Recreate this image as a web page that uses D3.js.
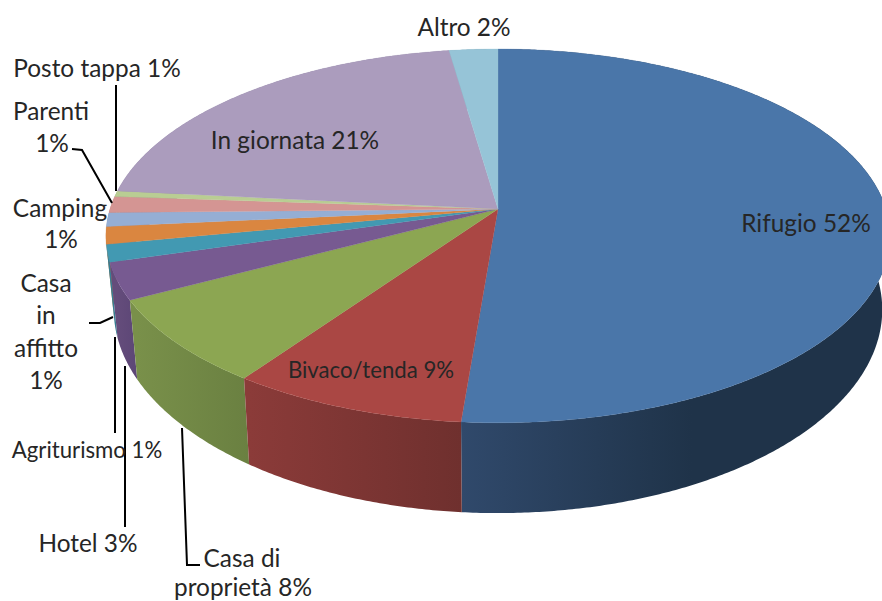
<!DOCTYPE html>
<html><head><meta charset="utf-8">
<script src="https://cdn.jsdelivr.net/npm/d3@7/dist/d3.min.js"></script>
<style>html,body{margin:0;padding:0;background:#fff;overflow:hidden}svg{display:block}</style>
</head><body>
<svg id="c" width="882" height="601"></svg>
<script>
// Data
const categories = ["Rifugio","Bivaco/tenda","Casa di proprietà","Hotel","Agriturismo","Casa in affitto","Camping","Parenti","Posto tappa","In giornata","Altro"];
const sliceShares = [51.3,8.5,7.5,3.2,1.5,1.5,1.2,1.4,0.5,21.1,2.3];
const shownPercents = [52,9,8,3,1,1,1,1,1,21,2];                       // as printed in the labels
// Styles
const topColors  = ["#4a76a9","#aa4744","#8ca652","#775a91","#4299b2","#da8640","#95aed4","#d49593","#b9cd93","#ab9cbd","#96c4d7"];
const wallLight  = ["#30496b","#8b3b39","#79904a","#644c7b","#367f94","#b56f35","#7b90b0","#b07b7a","#99aa7a","#8e82a0","#7ca3b2"];
const wallDark   = ["#1f3349","#6f302e","#6a8041","#5c4676","#33768a","#a86731","#728498","#a27170","#8d9e70","#837894","#7397a5"];
// Geometry of the tilted disc
const G = {cx:498, cy:209, rx:388, ry:183, k:0.144, shrink:0.98, depth:71.5, power:1.8};
function rim(a){ const u=Math.sin(a), v=-Math.cos(a), w=1-G.k*v;
  return {x:G.cx+G.rx*u/w, y:G.cy+G.ry*v/w, w}; }
function base(a){ const p=rim(a);
  return {x:G.cx+(p.x-G.cx)*G.shrink, y:G.cy+(p.y-G.cy)*G.shrink+G.depth/Math.pow(p.w,G.power)}; }
const lineGen = d3.line().x(d=>d.x).y(d=>d.y);
const arcs = d3.pie().sort(null).value(d=>d)(sliceShares);
function samples(s,e){ const n=Math.max(4,Math.ceil((e-s)*120)); return d3.range(n+1).map(i=>s+(e-s)*i/n); }

const svg = d3.select("#c");
const defs = svg.append("defs");
const gp = svg.append("g");

// gradients for walls
arcs.forEach((d,i)=>{
  const a=samples(d.startAngle,d.endAngle).map(base);
  const xs=d3.extent(a,p=>p.x);
  const g=defs.append("linearGradient").attr("id","w"+i).attr("gradientUnits","userSpaceOnUse")
    .attr("x1",xs[0]).attr("x2",i===0?xs[0]+230:xs[1]).attr("y1",0).attr("y2",0);
  g.append("stop").attr("offset",0).attr("stop-color",wallLight[i]);
  g.append("stop").attr("offset",1).attr("stop-color",wallDark[i]);
});

// outer walls, back to front
const wallOrder = arcs.map((d,i)=>i).sort((a,b)=>{
  const m=d=>-Math.cos((arcs[d].startAngle+arcs[d].endAngle)/2); return m(a)-m(b);});
gp.selectAll("path.wall").data(wallOrder).join("path").attr("class","wall")
  .attr("d",i=>{const s=samples(arcs[i].startAngle,arcs[i].endAngle);
    return lineGen(s.map(rim).concat(s.slice().reverse().map(base)))+"Z";})
  .attr("fill",i=>`url(#w${i})`);

// top faces
gp.selectAll("path.top").data(arcs).join("path").attr("class","top")
  .attr("d",d=>lineGen([{x:G.cx,y:G.cy}].concat(samples(d.startAngle,d.endAngle).map(rim)))+"Z")
  .attr("fill",(d,i)=>topColors[i])
  .attr("stroke",(d,i)=>topColors[i]).attr("stroke-width",0.3);

// Leader lines (annotation layout)
const leaders = [
 [[116,85],[116,191]],
 [[72,149],[82,150],[112,203]],
 [[89,323],[100,323],[113,317]],
 [[115,337],[115,433]],
 [[125,366],[125,527]],
 [[182,428],[187,565],[200,565]]
];
svg.append("g").selectAll("path").data(leaders).join("path")
  .attr("d",d3.line()).attr("fill","none").attr("stroke","#000").attr("stroke-width",2);

// Labels (annotation layout)
const pct = i=>shownPercents[i]+"%";
const big = 24.4, small = 22.2;
const labels = [
 {t:`${categories[0]} ${pct(0)}`, x:806, y:232, s:big},
 {t:`${categories[1]} ${pct(1)}`, x:371, y:378, s:small},
 {t:"Casa di", x:242, y:567, s:big},
 {t:`proprietà ${pct(2)}`, x:243, y:596, s:big},
 {t:`${categories[3]} ${pct(3)}`, x:88, y:552, s:big},
 {t:`${categories[4]} ${pct(4)}`, x:87, y:458, s:small},
 {t:"Casa", x:46, y:292, s:big},{t:"in", x:46, y:324, s:big},{t:"affitto", x:46, y:357, s:big},{t:pct(5), x:46, y:389, s:big},
 {t:categories[6], x:60, y:217, s:big},{t:pct(6), x:61, y:248, s:big},
 {t:categories[7], x:51, y:120, s:big},{t:pct(7), x:52, y:152, s:big},
 {t:`${categories[8]} ${pct(8)}`, x:97, y:77, s:big},
 {t:`${categories[9]} ${pct(9)}`, x:295, y:149, s:big},
 {t:`${categories[10]} ${pct(10)}`, x:464, y:36, s:big}
];
svg.append("g").selectAll("text").data(labels).join("text")
  .attr("x",d=>d.x).attr("y",d=>d.y).attr("text-anchor","middle")
  .attr("font-family","Lato, 'Open Sans', sans-serif").attr("font-size",d=>d.s)
  .attr("fill","#262626").text(d=>d.t);
</script>
</body></html>
